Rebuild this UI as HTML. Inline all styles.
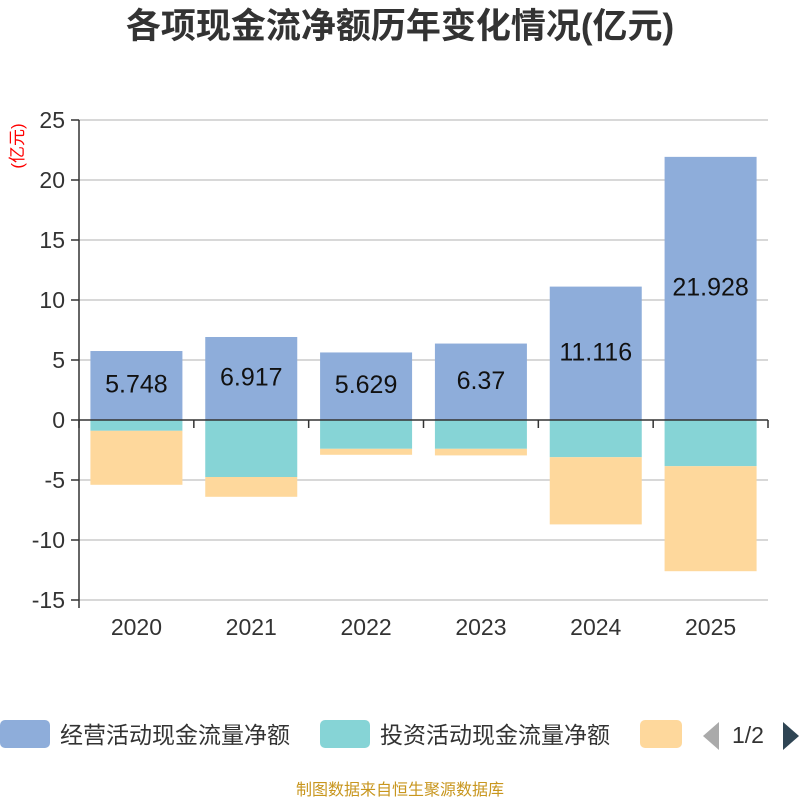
<!DOCTYPE html>
<html><head><meta charset="utf-8"><style>
body{margin:0;background:#fff;font-family:"Liberation Sans","Noto Sans CJK SC",sans-serif}
</style></head><body>
<svg id="c" width="800" height="800" xmlns="http://www.w3.org/2000/svg">
<text x="400" y="38" text-anchor="middle" font-size="35" font-weight="bold" fill="#333" font-family="Liberation Sans,Noto Sans CJK SC,sans-serif">各项现金流净额历年变化情况(亿元)</text>
<text transform="translate(23,146) rotate(-90)" text-anchor="middle" font-size="17" fill="#f00" font-family="Liberation Sans,Noto Sans CJK SC,sans-serif">(亿元)</text>
<g id="grid"></g><g id="bars"></g><g id="axes"></g>
<g font-family="Liberation Sans,Noto Sans CJK SC,sans-serif" font-size="23" fill="#333">
<rect x="0" y="720" width="50" height="28" rx="5" fill="#8eadda"/>
<text x="60" y="743">经营活动现金流量净额</text>
<rect x="320" y="720" width="50" height="28" rx="5" fill="#86d4d6"/>
<text x="380" y="743">投资活动现金流量净额</text>
<rect x="640" y="720" width="42" height="28" rx="5" fill="#fed89c"/>
<polygon points="719,722 719,750 703,736" fill="#aaa"/>
<text x="732" y="743">1/2</text>
<polygon points="783,722 783,750 799,736" fill="#2f4554"/>
</g>
<text x="400" y="795" text-anchor="middle" font-size="16" fill="#c8961e" font-family="Liberation Sans,Noto Sans CJK SC,sans-serif">制图数据来自恒生聚源数据库</text>
</svg>
<script>
const categories=["2020","2021","2022","2023","2024","2025"];
const operating=[5.748,6.917,5.629,6.37,11.116,21.928];
const investing=[-0.9,-4.75,-2.4,-2.4,-3.1,-3.85];
const financing=[-4.5,-1.65,-0.5,-0.55,-5.6,-8.75];
const yTicks=[25,20,15,10,5,0,-5,-10,-15];
const NS="http://www.w3.org/2000/svg";
const x0=79,x1=768,band=(x1-x0)/categories.length;
const y=v=>420-v*12;
const xb=i=>x0+i*band;
function mk(tag,attrs,parent){const e=document.createElementNS(NS,tag);for(const k in attrs)e.setAttribute(k,attrs[k]);document.getElementById(parent).appendChild(e);return e;}
yTicks.forEach(t=>{
 if(t!==0){const g=mk('line',{x1:x0,x2:x1,y1:y(t),y2:y(t),stroke:'#ccc','stroke-width':1.5},'grid');
 
 }
 const tk=mk('line',{x1:x0-8,x2:x0,y1:y(t),y2:y(t),stroke:'#333','stroke-width':1.5},'axes');
 
 
 const l=mk('text',{x:x0-14,y:y(t)+8,'text-anchor':'end','font-size':23,fill:'#333'},'axes');l.textContent=t;
 
 
});
const bw=92;
categories.forEach((c,i)=>{
 const bx=xb(i)+(band-bw)/2;
 const r1=mk('rect',{x:bx,y:y(operating[i]),width:bw,height:y(0)-y(operating[i]),fill:'#8eadda'},'bars');
 
 
 const r2=mk('rect',{x:bx,y:y(0),width:bw,height:y(investing[i])-y(0),fill:'#86d4d6'},'bars');
 
 
 const s=investing[i]+financing[i];
 const r3=mk('rect',{x:bx,y:y(investing[i]),width:bw,height:y(s)-y(investing[i]),fill:'#fed89c'},'bars');
 
 
 const v=mk('text',{x:bx+bw/2,y:y(operating[i]/2)+7,'text-anchor':'middle','font-size':25,fill:'#111'},'bars');v.textContent=operating[i];
 
 
 const xl=mk('text',{x:xb(i)+band/2,y:635,'text-anchor':'middle','font-size':23,fill:'#333'},'axes');xl.textContent=c;
 
 
});
for(let i=0;i<=categories.length;i++){const t=mk('line',{x1:xb(i),x2:xb(i),y1:420,y2:428,stroke:'#333','stroke-width':1.5},'axes');
 
 }
const za=mk('line',{x1:x0,x2:x1,y1:420,y2:420,stroke:'#333','stroke-width':1.5},'axes');


const ya=mk('line',{x1:x0,x2:x0,y1:y(25),y2:y(-15)+8,stroke:'#333','stroke-width':1.5},'axes');


</script>
</body></html>
